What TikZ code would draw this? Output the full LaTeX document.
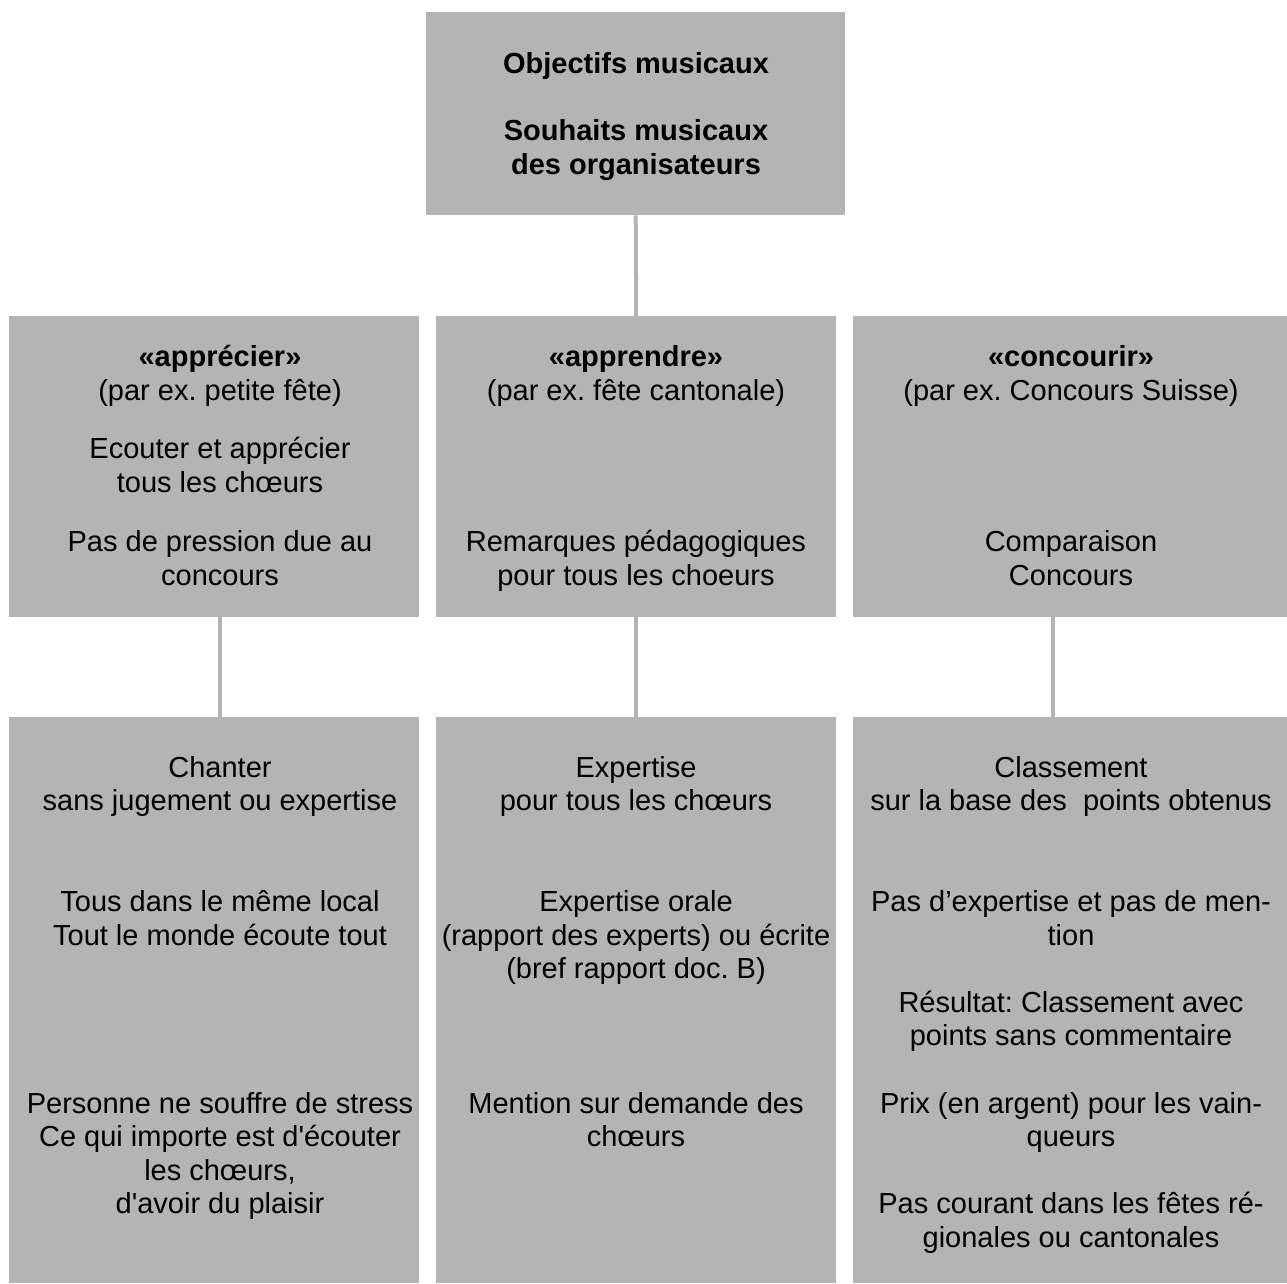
\documentclass[tikz,border=0pt]{standalone}
\usepackage{fontspec}
\setmainfont{Liberation Sans}
\frenchspacing
\definecolor{gris}{HTML}{B4B4B4}
\tikzset{
  boite/.style={fill=gris, inner sep=0pt, anchor=north west},
  texte/.style={anchor=base, align=center, inner sep=0pt, font=\fontsize{29}{33.6}\selectfont},
  titre/.style={texte, font=\fontsize{29}{33.6}\selectfont\bfseries},
  lien/.style={draw=gris, line width=4pt}
}
\begin{document}
\begin{tikzpicture}[x=1pt,y=-1pt]
\useasboundingbox (0,0) rectangle (1287,1283);
% boites
\node[boite, minimum width=419pt, minimum height=203pt] (obj) at (426,12) {};
\node[boite, minimum width=410pt, minimum height=301pt] (appr) at (9,316) {};
\node[boite, minimum width=400pt, minimum height=301pt] (apprd) at (436,316) {};
\node[boite, minimum width=434pt, minimum height=301pt] (conc) at (853,316) {};
\node[boite, minimum width=410pt, minimum height=566pt] (chant) at (9,717) {};
\node[boite, minimum width=400pt, minimum height=566pt] (exper) at (436,717) {};
\node[boite, minimum width=434pt, minimum height=566pt] (class) at (853,717) {};
% liens
\draw[lien] (obj.south) -- (apprd.north);
\draw[lien] ([xshift=6pt]appr.south) -- ([xshift=6pt]chant.north);
\draw[lien] (apprd.south) -- (exper.north);
\draw[lien] ([xshift=-17pt]conc.south) -- ([xshift=-17pt]class.north);
% haut (base = derniere ligne)
\node[titre] (t-obj) at (636,73) {Objectifs musicaux};
\node[titre] (t-souh) at (636,174) {Souhaits musicaux\\des organisateurs};
% milieu
\node[texte] (t-appr) at (220,400) {{\bfseries «apprécier»}\\(par ex. petite fête)};
\node[texte] (t-ecou) at (220,492) {Ecouter et apprécier\\tous les chœurs};
\node[texte] (t-pres) at (220,585) {Pas de pression due au\\concours};
\node[texte] (t-apprd) at (636,400) {{\bfseries «apprendre»}\\(par ex. fête cantonale)};
\node[texte] (t-rema) at (636,585) {Remarques pédagogiques\\pour tous les choeurs};
\node[texte] (t-conc) at (1071,400) {{\bfseries «concourir»}\\(par ex. Concours Suisse)};
\node[texte] (t-comp) at (1071,585) {Comparaison\\Concours};
% bas
\node[texte] (t-chant) at (220,810.6) {Chanter\\sans jugement ou expertise};
\node[texte] (t-local) at (220,945) {Tous dans le même local\\Tout le monde écoute tout};
\node[texte] (t-stress) at (220,1213.8) {Personne ne souffre de stress\\Ce qui importe est d\textquotesingle écouter\\les chœurs,\\d\textquotesingle avoir du plaisir};
\node[texte] (t-exper) at (636,810.6) {Expertise\\pour tous les chœurs};
\node[texte] (t-orale) at (636,978.6) {Expertise orale\\(rapport des experts) ou écrite\\(bref rapport doc. B)};
\node[texte] (t-ment) at (636,1146.6) {Mention sur demande des\\chœurs};
\node[texte] (t-class) at (1071,810.6) {Classement\\sur la base des\ \ points obtenus};
\node[texte] (t-pasexp) at (1071,945) {Pas d’expertise et pas de men-\\tion};
\node[texte] (t-resu) at (1071,1045.8) {Résultat: Classement avec\\points sans commentaire};
\node[texte] (t-prix) at (1071,1146.6) {Prix (en argent) pour les vain-\\queurs};
\node[texte] (t-cour) at (1071,1247.4) {Pas courant dans les fêtes ré-\\gionales ou cantonales};
\end{tikzpicture}
\end{document}
